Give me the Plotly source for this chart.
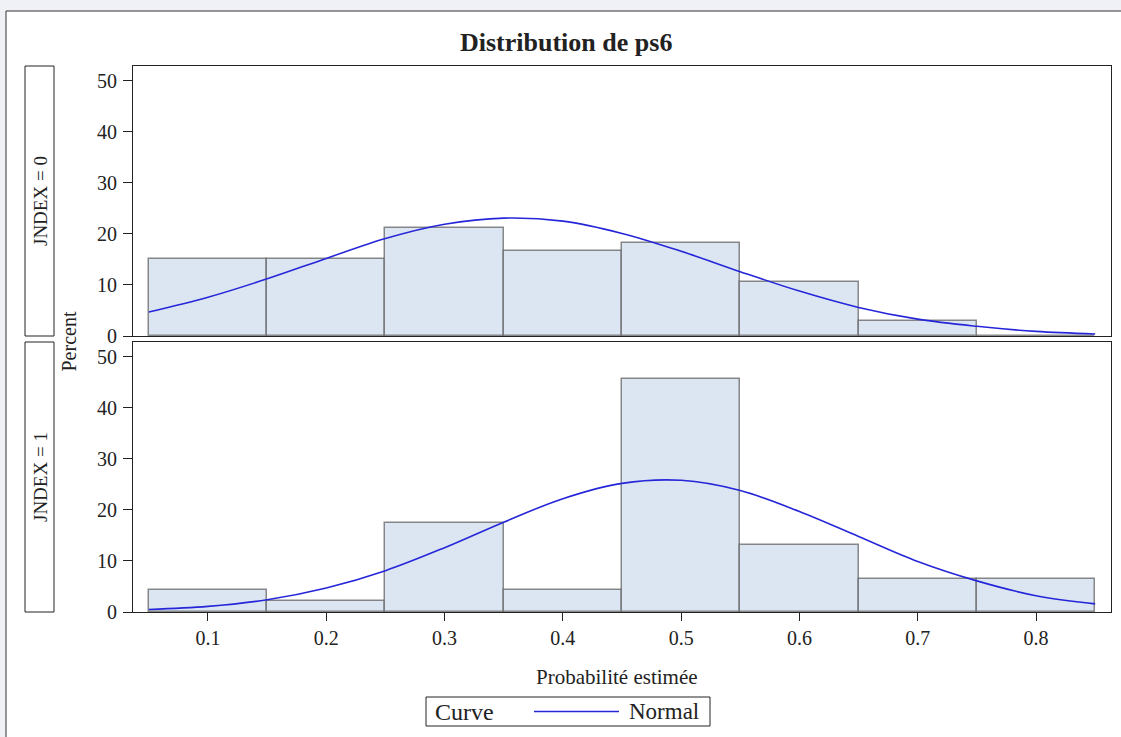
import plotly.graph_objects as go
from plotly.subplots import make_subplots

# ---- data ----
bin_centers = [0.1, 0.2, 0.3, 0.4, 0.5, 0.6, 0.7, 0.8]
pct_jndex0 = [15.15, 15.15, 21.21, 16.67, 18.18, 10.61, 3.03, 0.0]
pct_jndex1 = [4.35, 2.17, 17.39, 4.35, 45.65, 13.04, 6.52, 6.52]

curve_x = [0.05, 0.10, 0.15, 0.20, 0.25, 0.30, 0.35, 0.40, 0.45,
           0.50, 0.55, 0.60, 0.65, 0.70, 0.75, 0.80, 0.85]
curve_jndex0 = [4.7, 7.6, 11.2, 15.2, 19.1, 21.9, 23.1, 22.5, 20.1,
                16.6, 12.6, 8.8, 5.6, 3.3, 1.9, 0.9, 0.4]
curve_jndex1 = [0.5, 1.1, 2.4, 4.7, 8.1, 12.6, 17.6, 22.2, 25.2,
                25.8, 23.8, 19.7, 14.8, 9.9, 6.1, 3.2, 1.6]

xtick_vals = [0.1, 0.2, 0.3, 0.4, 0.5, 0.6, 0.7, 0.8]
xtick_text = ["0.1", "0.2", "0.3", "0.4", "0.5", "0.6", "0.7", "0.8"]
ytick_vals = [0, 10, 20, 30, 40, 50]
panel_labels = ["JNDEX = 0", "JNDEX = 1"]

# ---- layout helpers ----
W, H = 1121, 737
ML, MR, MT, MB = 133, 10, 66, 125
PW, PH = W - ML - MR, H - MT - MB


def px(x):
    return (x - ML) / PW


def py(y):
    return (H - MB - y) / PH


FONT = "Liberation Serif, Times New Roman, serif"
TXT = "#222222"
BAR_FILL = "#dce6f2"
BAR_LINE = "rgba(90,90,90,0.7)"
CURVE = "#2626d9"
AX = "#222222"

fig = make_subplots(rows=2, cols=1, shared_xaxes=True, vertical_spacing=0)

for row, (pcts, curve) in enumerate([(pct_jndex0, curve_jndex0), (pct_jndex1, curve_jndex1)], start=1):
    fig.add_trace(go.Bar(x=bin_centers, y=pcts, width=0.1,
                         marker=dict(color=BAR_FILL, line=dict(color=BAR_LINE, width=1.5)),
                         showlegend=False, hoverinfo="x+y"), row=row, col=1)
    fig.add_trace(go.Scatter(x=curve_x, y=curve, mode="lines",
                             line=dict(color=CURVE, width=1.6, shape="spline"),
                             name="Normal", showlegend=False), row=row, col=1)

xrange = [0.0366, 0.8634]
yrange = [0, 52.9]
axis_common = dict(showline=True, linecolor=AX, linewidth=1, mirror=True,
                   showgrid=False, zeroline=False)

fig.update_xaxes(range=xrange, **axis_common)
fig.update_yaxes(range=yrange, tickvals=ytick_vals, ticks="outside", ticklen=9,
                 tickcolor=AX, tickwidth=1.2, ticklabelstandoff=2,
                 tickfont=dict(family=FONT, size=20, color=TXT), **axis_common)
fig.update_xaxes(showticklabels=False, ticks="", row=1, col=1)
fig.update_xaxes(tickvals=xtick_vals, ticktext=xtick_text, ticks="outside", ticklen=8,
                 tickcolor=AX, tickwidth=1.2,
                 tickfont=dict(family=FONT, size=20, color=TXT), row=2, col=1)

top_dom = [py(336), 1.0]
bot_dom = [0.0, py(342)]
fig.update_layout(yaxis=dict(domain=top_dom), yaxis2=dict(domain=bot_dom))

shapes = []
# outer white frame
shapes.append(dict(type="rect", xref="paper", yref="paper",
                   x0=px(6), x1=px(1130), y0=py(750), y1=py(11),
                   fillcolor="white", line=dict(color="#333333", width=1), layer="below"))
# strip boxes
for (ya, yb) in [(66, 336), (342, 612)]:
    shapes.append(dict(type="rect", xref="paper", yref="paper",
                       x0=px(25), x1=px(54), y0=py(yb), y1=py(ya),
                       fillcolor="white", line=dict(color="#222222", width=1)))
# legend box + line sample
shapes.append(dict(type="rect", xref="paper", yref="paper",
                   x0=px(426), x1=px(710), y0=py(726), y1=py(697),
                   fillcolor="white", line=dict(color="#222222", width=1)))
shapes.append(dict(type="line", xref="paper", yref="paper",
                   x0=px(534), x1=px(619), y0=py(711.5), y1=py(711.5),
                   line=dict(color=CURVE, width=1.6)))

annotations = []
annotations.append(dict(text="<b>Distribution de ps6</b>", xref="paper", yref="paper",
                        x=px(566), y=py(43), xanchor="center", yanchor="middle",
                        showarrow=False, font=dict(family=FONT, size=26, color=TXT)))
for label, (ya, yb) in zip(panel_labels, [(66, 336), (342, 612)]):
    annotations.append(dict(text=label, xref="paper", yref="paper",
                            x=px(40), y=py((ya + yb) / 2), textangle=-90,
                            xanchor="center", yanchor="middle", showarrow=False,
                            font=dict(family=FONT, size=19, color=TXT)))
annotations.append(dict(text="Percent", xref="paper", yref="paper",
                        x=px(68.5), y=py(342), textangle=-90,
                        xanchor="center", yanchor="middle", showarrow=False,
                        font=dict(family=FONT, size=20, color=TXT)))
annotations.append(dict(text="Probabilité estimée", xref="paper", yref="paper",
                        x=px(617), y=py(677), xanchor="center", yanchor="middle",
                        showarrow=False, font=dict(family=FONT, size=21, color=TXT)))
annotations.append(dict(text="Curve", xref="paper", yref="paper",
                        x=px(433), y=py(711.5), xanchor="left", yanchor="middle",
                        showarrow=False, font=dict(family=FONT, size=24, color=TXT)))
annotations.append(dict(text="Normal", xref="paper", yref="paper",
                        x=px(627), y=py(711.5), xanchor="left", yanchor="middle",
                        showarrow=False, font=dict(family=FONT, size=23, color=TXT)))

fig.update_layout(width=W, height=H, margin=dict(l=ML, r=MR, t=MT, b=MB),
                  paper_bgcolor="#eff1f7", plot_bgcolor="rgba(0,0,0,0)",
                  bargap=0, showlegend=False,
                  shapes=shapes, annotations=annotations,
                  font=dict(family=FONT, color=TXT))

fig.write_html("out.html", config={"displayModeBar": False},
               post_script="document.body.style.margin='0';document.body.style.overflow='hidden';")
